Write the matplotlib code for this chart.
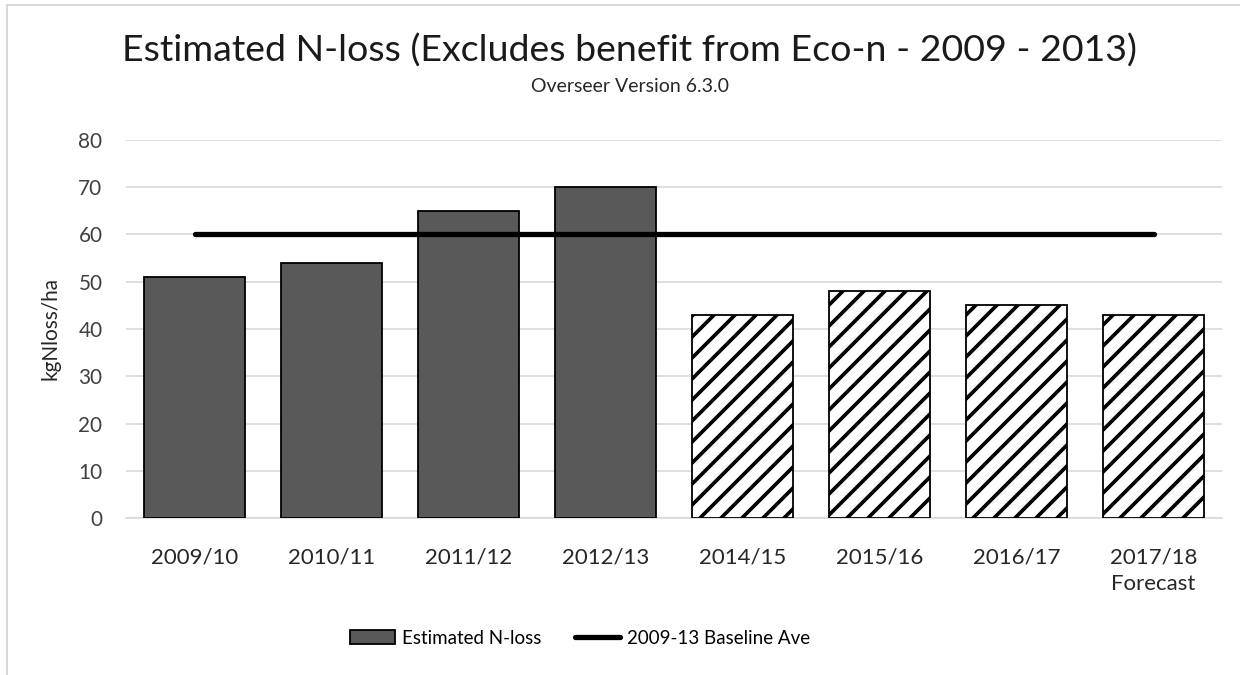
import matplotlib
matplotlib.use("Agg")
import matplotlib.pyplot as plt
from matplotlib.patches import Patch
from matplotlib.lines import Line2D

categories = ["2009/10", "2010/11", "2011/12", "2012/13", "2014/15", "2015/16", "2016/17", "2017/18\nForecast"]
n_loss = [51, 54, 65, 70, 43, 48, 45, 43]
hatched = [False, False, False, False, True, True, True, True]
baseline = [60] * len(categories)
yticks = [0, 10, 20, 30, 40, 50, 60, 70, 80]

DPI = 126
S = 100 / DPI  # sizes below are given as if at 100 dpi

plt.rcParams['font.family'] = ['Lato', 'DejaVu Sans']
plt.rcParams['hatch.linewidth'] = 2.1
plt.rcParams['hatch.color'] = 'black'

fig = plt.figure(figsize=(1240 / DPI, 675 / DPI), dpi=DPI)
ax = fig.add_axes([126/1240, 1-518/675, (1222-126)/1240, (518-140)/675])

x = list(range(len(categories)))
for xi, v, h in zip(x, n_loss, hatched):
    if h:
        ax.bar(xi, v, width=0.73, facecolor='white', edgecolor='black', linewidth=1.3*S, hatch='//', zorder=3)
    else:
        ax.bar(xi, v, width=0.73, facecolor='#595959', edgecolor='black', linewidth=1.3*S, zorder=3)

ax.plot(x, baseline, color='black', linewidth=3.8*S, solid_capstyle='round', zorder=4)

ax.set_xlim(-0.5, len(categories) - 0.5)
ax.set_ylim(0, 80)
ax.set_yticks(yticks)
ax.set_yticklabels([str(t) for t in yticks], fontsize=15*S, color='#404040')
ax.set_xticks(x)
ax.set_xticklabels(categories, fontsize=16*S, color='#262626', linespacing=1.45)
ax.tick_params(axis='both', length=0)
ax.tick_params(axis='y', pad=17*S)
ax.tick_params(axis='x', pad=21*S)
ax.grid(axis='y', color='#d9d9d9', linewidth=1.2*S, zorder=0)
for s in ['top', 'right', 'left']:
    ax.spines[s].set_visible(False)
ax.spines['bottom'].set_color('#d9d9d9')
ax.spines['bottom'].set_linewidth(1.2*S)
ax.set_ylabel('kgNloss/ha', fontsize=15*S, color='#262626', labelpad=13*S)

fig.text(630/1240, 1-51/675, 'Estimated N-loss (Excludes benefit from Eco-n - 2009 - 2013)',
         ha='center', va='center', fontsize=27*S, color='#1a1a1a')
fig.text(630/1240, 1-87/675, 'Overseer Version 6.3.0', ha='center', va='center', fontsize=14*S, color='#262626')

handles = [Patch(facecolor='#595959', edgecolor='black', linewidth=1.3*S),
           Line2D([0], [0], color='black', linewidth=3.8*S, solid_capstyle='round')]
fig.legend(handles, ['Estimated N-loss', '2009-13 Baseline Ave'], loc='center',
           bbox_to_anchor=(580/1240, 1-638/675), ncol=2, frameon=False, fontsize=13.5*S,
           handlelength=2.4, handleheight=0.7, handletextpad=0.4, columnspacing=1.75)

# outer chart border (partially visible)
fig.add_artist(Line2D([7/1240, 7/1240], [0, 1-5/675], color='#d9d9d9', linewidth=1.5*S, transform=fig.transFigure))
fig.add_artist(Line2D([7/1240, 1], [1-5/675, 1-5/675], color='#d9d9d9', linewidth=1.5*S, transform=fig.transFigure))

fig.savefig('out.png', dpi=DPI, facecolor='white')
